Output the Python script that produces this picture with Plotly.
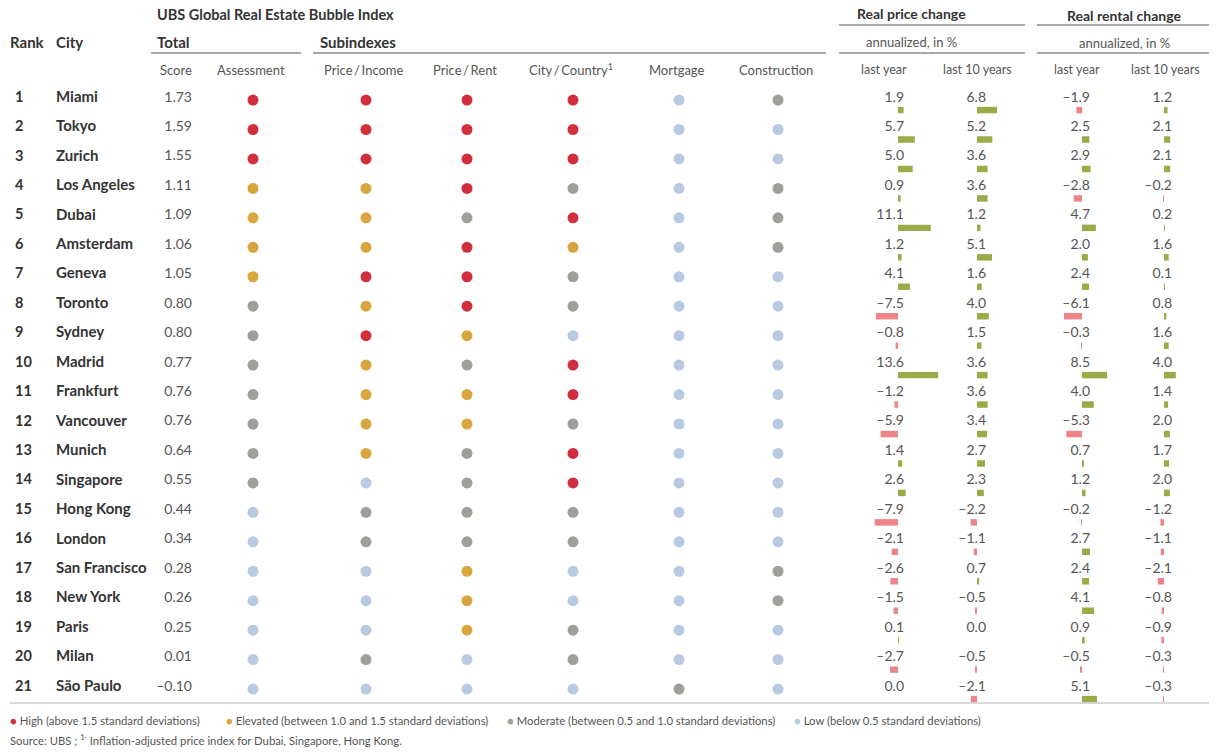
import plotly.graph_objects as go

# Data read from the UBS Global Real Estate Bubble Index table
ranks = list(range(1, 22))
cities = ['Miami', 'Tokyo', 'Zurich', 'Los Angeles', 'Dubai', 'Amsterdam', 'Geneva',
          'Toronto', 'Sydney', 'Madrid', 'Frankfurt', 'Vancouver', 'Munich', 'Singapore',
          'Hong Kong', 'London', 'San Francisco', 'New York', 'Paris', 'Milan', 'São Paulo']
scores = [1.73, 1.59, 1.55, 1.11, 1.09, 1.06, 1.05, 0.80, 0.80, 0.77, 0.76,
          0.76, 0.64, 0.55, 0.44, 0.34, 0.28, 0.26, 0.25, 0.01, -0.10]

# subindex levels: H = high, E = elevated, M = moderate, L = low
assessment =   ['H','H','H','E','E','E','E','M','M','M','M','M','M','M','L','L','L','L','L','L','L']
price_income = ['H','H','H','E','E','E','H','E','H','E','E','E','E','L','M','M','L','L','L','M','L']
price_rent =   ['H','H','H','H','M','H','H','H','E','M','E','E','M','M','M','M','E','E','E','L','L']
city_country = ['H','H','H','M','H','E','M','M','L','H','H','M','H','H','M','M','L','L','M','M','L']
mortgage =     ['L','L','L','L','L','L','L','L','L','L','L','L','L','L','L','L','L','L','L','L','M']
construction = ['M','L','L','M','M','M','L','L','L','L','L','L','L','L','L','L','M','M','L','L','L']

price_last_year = [1.9, 5.7, 5.0, 0.9, 11.1, 1.2, 4.1, -7.5, -0.8, 13.6, -1.2,
                   -5.9, 1.4, 2.6, -7.9, -2.1, -2.6, -1.5, 0.1, -2.7, 0.0]
price_10y = [6.8, 5.2, 3.6, 3.6, 1.2, 5.1, 1.6, 4.0, 1.5, 3.6, 3.6,
             3.4, 2.7, 2.3, -2.2, -1.1, 0.7, -0.5, 0.0, -0.5, -2.1]
rent_last_year = [-1.9, 2.5, 2.9, -2.8, 4.7, 2.0, 2.4, -6.1, -0.3, 8.5, 4.0,
                  -5.3, 0.7, 1.2, -0.2, 2.7, 2.4, 4.1, 0.9, -0.5, 5.1]
rent_10y = [1.2, 2.1, 2.1, -0.2, 0.2, 1.6, 0.1, 0.8, 1.6, 4.0, 1.4,
            2.0, 1.7, 2.0, -1.2, -1.1, -2.1, -0.8, -0.9, -0.3, -0.3]

sub_labels = ['Assessment', 'Price\u2009/\u2009Income', 'Price\u2009/\u2009Rent',
              'City\u2009/\u2009Country<sup>1</sup>', 'Mortgage', 'Construction']

# Styling
W, H = 1217, 755            # browser window
OFF = 8                     # page body margin
FW, FH = W - 2 * OFF, H - 2 * OFF
FONT = 'Lato'
DARK = '#333333'
GREY_TXT = '#555555'
LEVEL_COLORS = {'H': '#d22f3c', 'E': '#d9a53e', 'M': '#a09e99', 'L': '#b8cae2'}
POS_COLOR = '#9aab48'
NEG_COLOR = '#ee8486'

ROW0, STEP = 98, 29.45          # screen pixel of first row, pixel distance between rows
BAR_SCALE = 2.95                # pixels per percentage point

dot_cols = [253, 366, 467, 573, 679, 778]
bar_zero = [898, 977, 1082, 1164]
num_right = [904, 986, 1090, 1172]


def py(p):
    """screen pixel from top -> paper y"""
    return 1 - (p - OFF) / FH


def fmt(v, d=1):
    return f'{v:.{d}f}'.replace('-', '\u2013')


fig = go.Figure()

# rank, city, score columns
fig.add_trace(go.Scatter(x=[15] * len(ranks), y=ranks, mode='text', text=[str(r) for r in ranks],
                         textposition='middle right', hoverinfo='skip',
                         textfont=dict(family=FONT, size=14.5, color=DARK, weight='bold')))
fig.add_trace(go.Scatter(x=[56] * len(cities), y=ranks, mode='text', text=cities,
                         textposition='middle right', hoverinfo='skip',
                         textfont=dict(family=FONT, size=15, color=DARK, weight='bold')))
fig.add_trace(go.Scatter(x=[192] * len(scores), y=ranks, mode='text', text=[fmt(s, 2) for s in scores],
                         textposition='middle left', hoverinfo='skip',
                         textfont=dict(family=FONT, size=14, color=GREY_TXT)))

# subindex dots, one trace per level
subindexes = [assessment, price_income, price_rent, city_country, mortgage, construction]
for lvl, col in LEVEL_COLORS.items():
    xs, ys = [], []
    for cx, levels in zip(dot_cols, subindexes):
        for r, l in zip(ranks, levels):
            if l == lvl:
                xs.append(cx)
                ys.append(r + 0.07)
    fig.add_trace(go.Scatter(x=xs, y=ys, mode='markers', hoverinfo='skip',
                             marker=dict(size=11, color=col, line=dict(width=0))))

# change columns: numbers + small bars on their own x axes
changes = [price_last_year, price_10y, rent_last_year, rent_10y]
span = 110
for i, (vals, z, xr) in enumerate(zip(changes, bar_zero, num_right)):
    fig.add_trace(go.Scatter(x=[xr] * len(vals), y=ranks, mode='text', text=[fmt(v) for v in vals],
                             textposition='middle left', hoverinfo='skip',
                             textfont=dict(family=FONT, size=14, color=GREY_TXT)))
    ax = f'x{i + 2}'
    fig.add_trace(go.Bar(x=vals, y=[r + 0.41 for r in ranks], orientation='h', width=0.22,
                         xaxis=ax, yaxis='y', hoverinfo='skip',
                         marker=dict(color=[POS_COLOR if v >= 0 else NEG_COLOR for v in vals],
                                     line=dict(width=0))))
    left = min(span, z - OFF)
    right = min(span, W - OFF - z)
    fig.update_layout(**{f'xaxis{i + 2}': dict(domain=[(z - OFF - left) / FW, (z - OFF + right) / FW],
                                               range=[-left / BAR_SCALE, right / BAR_SCALE],
                                               anchor='y', visible=False, fixedrange=True)})

# header texts
ann = []


def add_text(x, y, text, anchor='left', size=13, bold=False, color=DARK):
    ann.append(dict(x=x, y=py(y), xref='x', yref='paper', text=text, showarrow=False,
                    xanchor=anchor, yanchor='middle',
                    font=dict(family=FONT, size=size, color=color,
                              weight='bold' if bold else 'normal')))


add_text(155, 15, 'UBS Global Real Estate Bubble Index', bold=True, size=14.5)
add_text(8, 42, 'Rank', bold=True, size=15)
add_text(54, 42, 'City', bold=True, size=15)
add_text(155, 42, 'Total', bold=True, size=15)
add_text(318, 42, 'Subindexes', bold=True, size=15)
add_text(194, 70, 'Score', anchor='right', color=GREY_TXT)
for cx, lab in zip(dot_cols, sub_labels):
    add_text(cx - 2, 70, lab, anchor='center', color=GREY_TXT)

add_text(911, 14, 'Real price change', anchor='center', bold=True, size=14)
add_text(911, 42, 'annualized, in %', anchor='center', color=GREY_TXT)
add_text(1124, 16, 'Real rental change', anchor='center', bold=True, size=14)
add_text(1124, 43, 'annualized, in %', anchor='center', color=GREY_TXT)
for cx, lab in zip([884, 977, 1077, 1165], ['last year', 'last 10 years', 'last year', 'last 10 years']):
    add_text(cx, 70, lab, anchor='center', size=12.5, color=GREY_TXT)

# legend and source
legend_items = [('H', 'High (above 1.5 standard deviations)', 8),
                ('E', 'Elevated (between 1.0 and 1.5 standard deviations)', 224),
                ('M', 'Moderate (between 0.5 and 1.0 standard deviations)', 505),
                ('L', 'Low (below 0.5 standard deviations)', 792)]
for lvl, lab, x in legend_items:
    add_text(x, 720, f'<span style="color:{LEVEL_COLORS[lvl]}">●</span> {lab}', size=11.3, color=GREY_TXT)
add_text(8, 739, 'Source: UBS ; <sup>1·</sup> Inflation-adjusted price index for Dubai, Singapore, Hong Kong.',
         size=11.3, color=GREY_TXT)

# rules
shapes = []
for x0, x1, y in [(151, 301, 53), (313, 826, 53), (839, 1025, 25), (839, 1025, 53),
                  (1037, 1214, 25), (1037, 1214, 53)]:
    shapes.append(dict(type='line', xref='x', yref='paper', x0=x0, x1=x1, y0=py(y), y1=py(y),
                       line=dict(color='#8c8c8c', width=1.3)))
shapes.append(dict(type='line', xref='x', yref='paper', x0=10, x1=1209, y0=py(703), y1=py(703),
                   line=dict(color='#cccccc', width=1.5)))

fig.update_layout(
    width=FW, height=FH,
    margin=dict(l=0, r=0, t=0, b=0),
    paper_bgcolor='white', plot_bgcolor='rgba(0,0,0,0)',
    showlegend=False, barmode='overlay',
    xaxis=dict(range=[OFF, W - OFF], domain=[0, 1], visible=False, fixedrange=True),
    yaxis=dict(range=[1 + (FH - (ROW0 - OFF)) / STEP, 1 - (ROW0 - OFF) / STEP], domain=[0, 1],
               visible=False, fixedrange=True),
    annotations=ann, shapes=shapes,
)

fig.write_html('out.html')
